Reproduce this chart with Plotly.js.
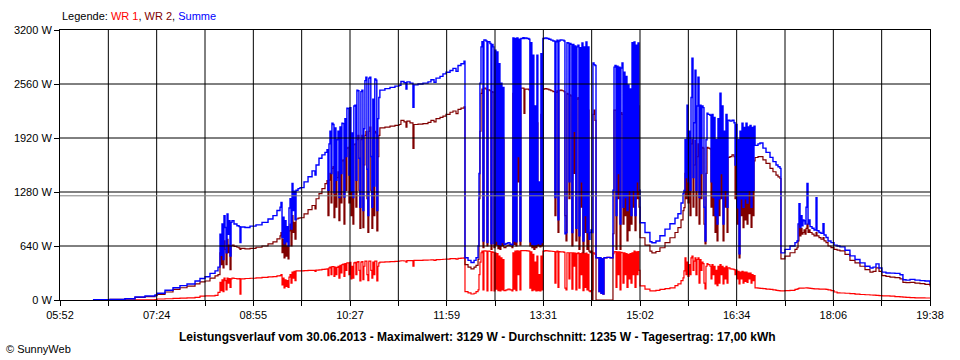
<!DOCTYPE html>
<html>
<head>
<meta charset="utf-8">
<script src="https://cdn.plot.ly/plotly-3.0.1.min.js"></script>
<style>
html,body{margin:0;padding:0;background:#fff;}
#chart{width:960px;height:360px;}
</style>
</head>
<body>
<div id="chart"></div>
<script>
// minutes since midnight
const times = [
383.3,399.5,413.7,423.2,432.7,442.2,444.1,451.7,459.3,465.9,472.6,480.2,484.9,489.7,494.4,499.2,502.0,
503.9,504.9,505.8,506.8,507.7,508.7,509.6,510.6,511.5,512.5,513.4,514.4,515.3,517.2,520.0,522.0,522.9,523.8,
527.6,532.4,538.1,543.8,549.5,554.2,558.0,560.9,561.8,562.8,563.7,564.7,565.6,566.6,567.5,568.5,569.4,570.4,
571.3,572.3,573.2,574.2,575.1,576.1,578.0,579.9,583.7,587.5,591.3,594.1,595.1,597.9,600.7,603.6,605.5,
606.4,607.4,608.3,609.3,610.2,611.2,612.1,613.0,614.0,614.9,615.9,616.8,617.8,618.7,619.7,620.6,621.6,622.5,
623.5,624.4,625.4,626.3,627.2,628.2,629.1,630.1,631.0,632.0,632.9,633.9,634.8,635.8,636.7,637.7,638.6,639.6,
640.5,641.5,642.4,643.4,644.3,645.2,646.2,647.1,648.1,649.0,650.0,650.9,651.9,652.8,653.8,654.7,655.7,
660.5,665.3,670.0,673.8,675.7,678.6,680.5,681.4,684.3,687.1,688.1,691.9,696.6,701.4,704.2,707.1,709.0,712.8,
715.6,718.5,722.3,725.1,728.0,729.9,732.7,735.6,736.5,739.4,742.2,745.1,747.0,
748.9,749.8,750.7,751.7,752.6,753.6,754.5,756.4,757.4,758.3,760.2,761.2,762.1,763.1,764.0,765.0,765.9,766.9,
767.8,768.8,769.7,770.6,771.6,772.5,773.5,775.4,777.3,779.2,781.1,782.0,783.0,783.9,784.9,785.8,786.8,787.7,
788.7,789.6,791.5,792.5,793.4,795.3,797.2,798.1,799.1,800.0,801.0,801.9,802.9,803.8,804.8,805.7,806.7,807.6,
808.6,809.6,810.5,812.4,814.3,816.2,818.1,820.0,821.9,822.9,823.8,824.8,825.7,826.7,828.6,830.5,831.4,832.4,
833.3,834.3,835.2,836.2,837.1,838.0,839.0,839.9,840.9,841.8,842.8,843.7,844.7,845.7,846.6,847.6,848.5,849.5,
850.4,851.4,852.3,853.3,854.2,855.2,856.1,857.1,858.0,859.0,859.9,860.9,861.8,863.7,864.7,865.6,866.6,867.5,
868.5,871.3,874.2,876.1,877.0,878.0,878.9,879.9,880.8,881.8,882.7,883.7,884.6,885.6,886.5,887.5,888.4,889.4,
890.3,891.3,892.2,893.2,894.1,895.1,896.0,897.0,897.9,898.9,899.8,900.8,901.7,902.7,
907.4,912.1,914.0,917.8,921.6,926.4,931.1,935.9,938.7,941.6,943.5,944.4,945.4,946.3,947.3,948.2,949.2,950.1,
951.1,952.0,953.0,953.9,954.9,955.8,956.8,957.7,958.7,959.6,960.6,961.5,962.5,963.4,964.4,965.3,966.3,967.2,
969.1,970.1,971.0,972.0,972.9,973.9,974.8,975.8,976.7,977.7,978.6,979.6,980.5,981.5,982.4,983.4,984.3,985.3,
986.2,988.1,990.0,991.9,992.9,993.8,994.8,995.7,996.7,997.6,998.6,999.5,1000.5,1001.4,1002.4,1003.3,1004.3,
1005.2,1006.2,1007.1,1008.1,1009.0,1010.0,1010.9,1011.9,1014.7,1016.6,1019.4,1022.3,1026.1,1028.9,1031.8,
1033.7,1035.6,1036.5,1040.3,1045.1,1049.8,1051.7,1052.7,1053.6,1054.6,1055.5,1056.5,1057.4,1058.4,1059.3,
1060.3,1061.2,1062.2,1063.1,1064.1,1066.0,1067.9,1069.8,1070.7,1072.6,1074.5,1076.4,1077.4,1079.3,1081.2,
1084.0,1086.9,1089.8,1092.5,1097.3,1102.0,1106.8,1111.5,1116.3,1121.0,1123.9,1126.7,1129.6,1132.4,1136.2,
1140.0,1144.7,1149.5,1152.3,1155.2,1159.0,1163.7,1168.5,1173.2,1178.0
];
const wr1 = [
0,0,0,1,3,5,12,15,20,22,25,30,45,48,50,55,90,
210,110,240,100,260,230,120,260,200,255,150,250,260,255,250,255,70,250,
255,258,262,268,273,278,285,290,300,180,260,143,240,160,230,150,270,300,
200,330,260,340,230,345,345,345,348,350,352,340,355,358,362,366,369,
290,380,390,300,395,395,280,390,300,385,400,260,410,320,420,425,280,430,
350,440,440,300,445,250,400,260,440,445,300,450,455,350,226,450,455,240,
400,460,460,300,230,460,462,350,260,450,300,462,460,226,400,440,450,
452,455,458,462,465,462,450,466,466,400,470,470,472,474,475,470,478,480,
483,485,490,490,485,493,496,500,100,85,71,80,100,
120,300,450,560,580,120,583,580,107,580,575,110,570,565,107,560,130,550,
110,520,107,500,120,480,110,120,130,120,107,560,130,580,110,583,300,580,
120,585,586,585,585,583,580,140,570,110,540,120,450,107,520,110,300,107,
520,120,580,585,583,580,578,575,200,570,580,150,575,570,570,565,140,120,
560,560,250,560,560,130,560,400,555,120,550,560,140,550,300,560,110,550,
150,555,120,540,107,100,110,120,560,555,540,500,500,100,500,80,490,70,
500,505,500,500,550,570,575,150,570,300,570,120,565,560,200,560,300,550,
150,540,250,550,200,560,300,580,150,570,300,575,350,167,
130,107,107,115,125,135,143,170,190,230,262,345,500,300,450,280,420,300,
500,520,350,460,500,300,480,500,200,480,350,450,430,200,131,400,430,420,
400,250,420,300,400,190,350,170,400,200,420,300,400,190,380,250,400,200,
380,370,365,360,300,355,250,340,190,330,250,340,200,330,220,330,210,
320,250,320,200,300,230,290,143,140,138,135,130,125,120,115,
110,107,107,110,115,125,130,135,140,140,140,140,141,142,142,
143,143,140,140,138,135,133,131,131,130,130,128,128,125,120,
110,95,85,83,80,75,70,65,62,59,57,55,52,50,48,
45,40,38,34,30,28,26,25,24,24
];
const wr2 = [
4,8,14,30,40,52,65,95,125,145,165,190,214,225,260,285,300,
560,420,620,380,700,600,420,720,560,650,360,640,650,635,625,615,600,612,
605,612,625,640,665,690,725,760,800,560,720,500,700,520,640,488,820,900,
640,1000,800,920,720,960,970,975,1020,1070,1120,1080,1200,1260,1320,1380,1416,
1000,1420,1500,1150,1560,1580,975,1540,1100,1450,1520,940,1600,1150,1650,1660,900,1700,
1300,1800,1810,1150,1820,1000,1550,900,1840,1850,1100,1900,1950,1300,850,1900,1950,857,
1600,1950,2000,1200,800,2000,2050,1300,850,1900,1000,2000,1980,820,1700,1950,2040,
2050,2060,2070,2080,2130,2110,2050,2120,2100,1796,2080,2085,2090,2105,2130,2110,2150,2165,
2180,2200,2225,2240,2210,2260,2275,2290,420,390,370,390,410,
480,1200,2000,2450,2500,620,2510,2500,640,2490,2480,600,2470,2460,620,2400,650,2350,
610,2200,600,2000,640,1900,620,640,650,640,620,2450,660,2500,640,2510,1400,2500,
650,2510,2510,2213,2500,2500,2490,640,2450,620,2300,600,1800,620,2100,640,1000,630,
2200,640,2500,2505,2500,2490,2480,2470,1000,2460,2480,800,2480,2487,2480,2470,1000,700,
2450,2440,1200,2430,2420,640,2420,1500,2400,700,2380,2400,600,2350,1100,2400,560,2300,
800,2350,600,2250,580,560,580,0,2200,2250,2130,0,0,0,0,0,0,0,
0,0,0,0,785,2250,2250,600,2240,1200,2230,600,2220,2200,900,2180,1000,2100,
700,2050,821,2000,900,2200,1100,2400,821,2350,1200,2300,1100,738,
650,580,559,575,619,680,738,800,857,950,1059,1094,1500,1200,1700,1150,1500,1000,
1850,1900,1100,1600,1890,1000,1700,1850,900,1810,1200,1808,1800,900,666,1500,1808,1800,
1790,1100,1800,1000,1700,800,1500,700,1750,1000,1800,1200,1750,700,1600,1100,1700,800,
1690,1700,1720,1700,1200,1690,900,1500,500,1600,1000,1690,857,1650,950,1680,900,
1650,1023,1650,860,1600,1000,1650,1689,1700,1700,1660,1620,1560,1520,1480,
1460,1440,488,520,560,600,619,700,900,760,850,780,800,830,780,
850,900,800,830,800,780,760,800,760,740,720,740,700,680,640,
620,600,590,583,540,470,440,400,360,330,340,380,340,290,280,
270,265,250,210,205,210,200,195,185,160
];
const summe = [
4,8,15,36,48,60,80,115,146,170,190,225,255,275,315,345,390,
780,530,900,480,1000,860,560,1020,780,940,520,920,940,900,880,870,682,865,
860,875,890,920,960,1000,1060,1100,1157,740,980,666,940,690,870,640,1090,1200,
840,1380,1060,1290,950,1300,1320,1332,1400,1460,1530,1480,1600,1680,1720,1750,1780,
1300,1850,2000,1500,2094,2080,1270,2040,1420,1900,2000,1213,2050,1500,2094,2090,1220,2150,
1700,2272,2270,1480,2280,1290,1980,1213,2300,2310,1420,2487,2480,1680,1100,2470,2487,1059,
2030,2600,2641,1550,1000,2630,2641,1700,1100,2380,1350,2620,2606,1059,2150,2400,2487,
2505,2520,2535,2546,2590,2575,2500,2585,2570,2284,2550,2560,2570,2585,2610,2580,2630,2650,
2680,2700,2720,2745,2710,2780,2800,2830,500,470,445,470,500,
640,1500,2570,3000,3060,700,3082,3070,680,3060,3040,666,3030,3000,670,2960,700,2940,
660,2800,650,2570,680,2520,660,670,680,660,650,3105,700,3100,690,3105,1700,3090,
700,3100,3110,3100,3105,3100,3090,690,3050,660,2900,650,2300,660,2900,670,1400,660,
2920,680,3100,3105,3100,3090,3080,3070,1213,3060,3080,950,3070,3082,3080,3070,785,800,
3050,3046,1400,3040,3030,800,3030,2000,3010,850,3000,3020,760,2990,1400,3046,700,3000,
1000,3058,800,3000,720,800,830,800,2808,2790,2780,500,500,100,500,80,490,70,
500,505,500,500,1300,2760,2780,1000,2770,1500,2760,900,2750,2808,1100,2700,1213,2650,
1059,2550,1300,2500,1000,3050,1300,3058,1000,3020,1400,3046,1300,916,
800,690,678,700,761,840,904,970,1023,1150,1261,1297,1900,1450,2308,1400,2000,1300,
2400,2867,1450,2100,2725,1300,2300,2640,1213,2308,1500,2300,2280,1100,700,1900,2213,2200,
2190,1400,2200,1213,2165,1000,1900,900,2150,1200,2450,1500,2300,900,2000,1300,2200,1100,
2130,2120,2130,2100,1600,2080,1094,1900,547,2000,1200,2094,1100,2046,1200,2094,1150,
2050,1300,2070,1100,2046,1300,2060,1832,1850,1860,1800,1750,1690,1640,1600,
1580,1560,559,600,640,680,700,900,1142,860,1000,880,950,940,900,
1100,1380,900,950,870,850,830,1213,820,800,790,904,770,740,700,
680,650,640,630,590,523,480,440,400,380,390,428,380,330,320,
318,315,300,240,235,245,236,230,226,190
];
const xTickLabels = ["05:52","07:24","08:55","10:27","11:59","13:31","15:02","16:34","18:06","19:38"];
const yTickValues = [0,640,1280,1920,2560,3200];
const yUnit = ' W';
const averageW = 1235;
const legendText = 'Legende: <span style="color:#ff0000">WR 1</span>, <span style="color:#800000">WR 2</span>, <span style="color:#0000ff">Summe</span>';
const footerTitle = 'Leistungsverlauf vom 30.06.2013 - Maximalwert: 3129 W - Durchschnitt: 1235 W - Tagesertrag: 17,00 kWh';
const copyrightText = '\u00A9 SunnyWeb';

const xStart = 352, xEnd = 1178, nDiv = 18;
const tickvals = [], ticktext = [];
for (let i = 0; i <= nDiv; i++) {
  tickvals.push(xStart + i * (xEnd - xStart) / nDiv);
  ticktext.push(i % 2 === 0 ? xTickLabels[i / 2] : '');
}

const FONT = '"Liberation Sans", Arial, sans-serif';
const traces = [
  {x: times, y: wr1, name: 'WR 1', type: 'scatter', mode: 'lines', line: {color: '#ff0000', width: 1.2, shape: 'hv'}, hoverinfo: 'skip'},
  {x: times, y: wr2, name: 'WR 2', type: 'scatter', mode: 'lines', line: {color: '#800000', width: 1.2, shape: 'hv'}, hoverinfo: 'skip'},
  {x: times, y: summe, name: 'Summe', type: 'scatter', mode: 'lines', line: {color: '#0000ff', width: 1.4, shape: 'hv'}, hoverinfo: 'skip'}
];

const shapes = [];
for (let i = 1; i < nDiv; i++) {
  shapes.push({type: 'line', xref: 'x', yref: 'paper', x0: tickvals[i], x1: tickvals[i], y0: 0, y1: 1, line: {color: '#000', width: 1}, layer: 'above'});
}
yTickValues.slice(1, -1).forEach(v => {
  shapes.push({type: 'line', xref: 'paper', yref: 'y', x0: 0, x1: 1, y0: v, y1: v, line: {color: '#000', width: 1}, layer: 'above'});
});
shapes.push({type: 'line', xref: 'paper', yref: 'y', x0: 0, x1: 1, y0: averageW, y1: averageW, line: {color: '#808080', width: 1}, layer: 'above'});

const layout = {
  width: 960, height: 360,
  margin: {l: 60, r: 30, t: 30, b: 60},
  paper_bgcolor: '#fff', plot_bgcolor: '#fff',
  showlegend: false,
  font: {family: FONT, size: 11, color: '#000'},
  xaxis: {
    type: 'linear', range: [xStart, xEnd], tickmode: 'array', tickvals: tickvals, ticktext: ticktext,
    showgrid: false, zeroline: false, showline: true, mirror: true, linecolor: '#000', linewidth: 1,
    ticks: 'outside', ticklen: 5, tickcolor: '#000', tickfont: {family: FONT, size: 11, color: '#000'}, fixedrange: true
  },
  yaxis: {
    range: [0, 3200], tickmode: 'array', tickvals: yTickValues, ticktext: yTickValues.map(v => v + yUnit),
    showgrid: false, zeroline: false, showline: true, mirror: true, linecolor: '#000', linewidth: 1,
    ticks: 'outside', ticklen: 5, tickcolor: '#000', tickfont: {family: FONT, size: 11, color: '#000'}, fixedrange: true
  },
  shapes: shapes,
  annotations: [
    {text: legendText, xref: 'paper', yref: 'paper', x: 0, y: 1, xanchor: 'left', yanchor: 'middle', yshift: 14, showarrow: false, font: {family: FONT, size: 11, color: '#000'}},
    {text: '<b>' + footerTitle + '</b>', xref: 'paper', yref: 'paper', x: 0.48, y: 0, xanchor: 'center', yanchor: 'middle', yshift: -37, showarrow: false, font: {family: FONT, size: 12, color: '#000'}},
    {text: copyrightText, xref: 'paper', yref: 'paper', x: 0, y: 0, xanchor: 'left', yanchor: 'middle', xshift: -56, yshift: -49, showarrow: false, font: {family: FONT, size: 11, color: '#000'}}
  ]
};

Plotly.newPlot('chart', traces, layout, {displayModeBar: false, staticPlot: true});
</script>
</body>
</html>
